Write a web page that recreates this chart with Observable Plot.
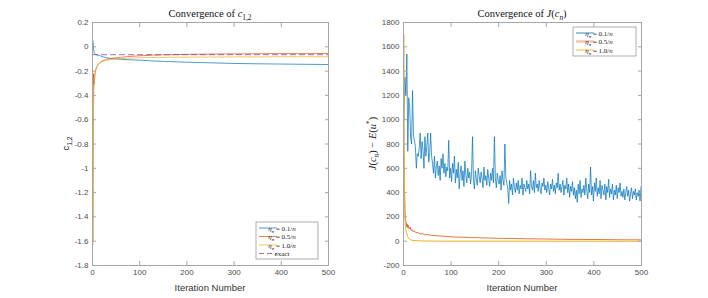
<!DOCTYPE html>
<html><head><meta charset="utf-8">
<script src="https://cdn.jsdelivr.net/npm/d3@7"></script>
<script src="https://cdn.jsdelivr.net/npm/@observablehq/plot@0.6"></script>
<style>
body{margin:0;background:#fff;}
#wrap{display:flex;width:708px;height:298px;overflow:hidden;}
#wrap svg{overflow:visible;}
</style></head><body><div id="wrap"></div>
<script>
// ---------- data ----------
const xTicks = [0, 100, 200, 300, 400, 500];
const leftYTicks = [0.2, 0, -0.2, -0.4, -0.6, -0.8, -1, -1.2, -1.4, -1.6, -1.8];
const rightYTicks = [1800, 1600, 1400, 1200, 1000, 800, 600, 400, 200, 0, -200];
const seriesNames = ["0.1", "0.5", "1.0"];

// left panel: convergence of c_{1,2}
const cIter   = [1, 2, 3, 4, 5, 6, 8, 10, 12, 15, 20, 25, 30, 40, 50, 60, 80, 100, 125, 150, 200, 250, 300, 350, 400, 450, 500];
const cBlue   = [0.05, 0.0, -0.04, -0.055, -0.06, -0.062, -0.065, -0.067, -0.069, -0.072, -0.08, -0.085, -0.09, -0.097, -0.1, -0.103, -0.107, -0.11, -0.116, -0.12, -0.127, -0.132, -0.137, -0.14, -0.142, -0.144, -0.146];
const cOrange = [-1.6, -0.22, -0.31, -0.27, -0.23, -0.2, -0.175, -0.158, -0.145, -0.132, -0.118, -0.11, -0.104, -0.096, -0.09, -0.086, -0.079, -0.074, -0.069, -0.066, -0.062, -0.06, -0.058, -0.057, -0.056, -0.056, -0.055];
const cYellow = [-1.63, -0.5, -0.37, -0.29, -0.245, -0.215, -0.18, -0.16, -0.148, -0.135, -0.122, -0.115, -0.11, -0.104, -0.1, -0.097, -0.093, -0.09, -0.088, -0.087, -0.085, -0.084, -0.083, -0.083, -0.082, -0.082, -0.082];
const cExact  = -0.065;

// right panel: convergence of J(c_n), eta_n = 0.1/n sampled at n = 1,3,5,...,499
const jBlue = [
  1000, 1350, 1200, 1540, 740, 1180, 1100, 850, 800, 1240,
  870, 830, 780, 600, 720, 700, 760, 890, 680, 820,
  750, 600, 860, 700, 780, 890, 650, 730, 890, 700,
  640, 560, 700, 520, 610, 660, 540, 620, 500, 680,
  600, 720, 560, 640, 530, 610, 580, 830, 520, 600,
  490, 640, 560, 700, 480, 590, 520, 650, 430, 560,
  620, 500, 580, 450, 660, 540, 480, 600, 520, 570,
  470, 560, 860, 500, 430, 580, 510, 460, 600, 540,
  480, 570, 520, 440, 610, 500, 540, 460, 590, 520,
  450, 560, 500, 600, 480, 860, 520, 440, 560, 500,
  470, 540, 420, 580, 500, 460, 800, 530, 480, 440,
  310, 500, 420, 470, 380, 520, 440, 400, 480, 420,
  500, 390, 460, 430, 520, 380, 470, 440, 410, 500,
  430, 470, 390, 580, 450, 420, 500, 400, 560, 440,
  470, 410, 500, 430, 390, 480, 450, 520, 420, 460,
  400, 490, 440, 380, 470, 430, 510, 410, 460, 390,
  480, 440, 560, 420, 470, 400, 450, 500, 380, 460,
  430, 520, 400, 470, 360, 450, 410, 490, 380, 440,
  350, 420, 320, 470, 390, 500, 360, 430, 400, 460,
  380, 520, 420, 350, 470, 400, 610, 380, 450, 330,
  480, 410, 520, 370, 440, 390, 500, 350, 460, 420,
  380, 470, 340, 450, 400, 510, 360, 430, 390, 470,
  340, 420, 380, 460, 350, 440, 400, 480, 370, 410,
  360, 430, 340, 400, 450, 370, 420, 330, 390, 440,
  350, 410, 380, 430, 340, 400, 370, 420, 330, 450
];
const jOrangeIter = [1, 2, 3, 4, 5, 6, 7, 8, 9, 10, 12, 14, 16, 18, 20, 23, 26, 30, 35, 40, 45, 50, 60, 70, 80, 90, 100, 120, 140, 160, 180, 200, 230, 260, 300, 350, 400, 450, 500];
const jOrange     = [700, 420, 260, 190, 160, 150, 120, 140, 110, 130, 100, 115, 90, 95, 80, 85, 70, 72, 60, 62, 52, 55, 48, 45, 42, 40, 36, 33, 30, 28, 26, 24, 22, 20, 18, 15, 14, 12, 11];
const jYellowIter = [1, 2, 3, 4, 5, 6, 8, 10, 12, 15, 20, 30, 50, 100, 200, 300, 400, 500];
const jYellow     = [1700, 500, 200, 130, 95, 75, 50, 30, 20, 12, 6, 3, 1, 0.5, 0.3, 0.2, 0.1, 0.1];

// ---------- style ----------
const COL = {blue: "#0072BD", orange: "#D95319", yellow: "#EDB120", purple: "#7E2F8E"};
const AXIS = "#a6a6a6", TXT = "#4d4d4d";
const W = 354, H = 298, MT = 22, MB = 33;
const SANS = "'Liberation Sans', Arial, Helvetica, sans-serif";
const SERIF = "'Liberation Serif', 'Times New Roman', serif";
const fmt = d => String(d);

function axes(yTicks) {
  return [
    Plot.frame({stroke: AXIS}),
    Plot.axisX({anchor: "bottom", ticks: xTicks, tickSize: -4, tickPadding: 8, stroke: AXIS, fill: TXT, tickFormat: fmt, label: null}),
    Plot.axisX({anchor: "top", ticks: xTicks, tickSize: -4, stroke: AXIS, tickFormat: () => "", label: null}),
    Plot.axisY({anchor: "left", ticks: yTicks, tickSize: -4, tickPadding: 8, stroke: AXIS, fill: TXT, tickFormat: fmt, label: null}),
    Plot.axisY({anchor: "right", ticks: yTicks, tickSize: -4, stroke: AXIS, tickFormat: () => "", label: null})
  ];
}

function rich(sel, parts, baseSize) {
  let shift = 0;
  parts.forEach(p => {
    const ts = sel.append("tspan").text(p.t);
    let target = 0, size = baseSize;
    if (p.sub) { target = baseSize * 0.3; size = baseSize * 0.7; }
    if (p.sup) { target = -baseSize * 0.4; size = baseSize * 0.7; }
    ts.attr("dy", target - shift).attr("font-size", size);
    if (p.i) ts.attr("font-style", "italic");
    shift = target;
  });
}

function legend(svg, x0, y0, w, h, rows, rowH) {
  const g = svg.append("g");
  g.append("rect").attr("x", x0).attr("y", y0).attr("width", w).attr("height", h)
    .attr("fill", "white").attr("stroke", "#9a9a9a").attr("stroke-width", 0.8);
  rows.forEach((r, k) => {
    const y = y0 + 6 + k * rowH;
    g.append("line").attr("x1", x0 + 3).attr("x2", x0 + 21).attr("y1", y).attr("y2", y)
      .attr("stroke", r.color).attr("stroke-width", r.width || 1)
      .attr("stroke-opacity", r.opacity || 1).attr("stroke-dasharray", r.dash || null);
    const t = g.append("text").attr("x", x0 + 26).attr("y", y + 2.5)
      .attr("font-family", SERIF).attr("font-size", 7).attr("fill", "#222");
    rich(t, r.parts, 7);
  });
}

function etaParts(v) {
  return [{t: "η", i: true}, {t: "n", sub: true, i: true}, {t: " = " + v + "/"}, {t: "n", i: true}];
}

// ---------- left panel ----------
const L = {ml: 92, mr: 26};
const left = Plot.plot({
  width: W, height: H, marginLeft: L.ml, marginRight: L.mr, marginTop: MT, marginBottom: MB,
  style: {fontFamily: SANS, fontSize: "8px", background: "white", overflow: "visible"},
  x: {domain: [0, 500]},
  y: {domain: [-1.8, 0.2]},
  marks: [
    Plot.line(cBlue, {x: (d, i) => cIter[i], y: d => d, stroke: COL.blue, strokeWidth: 1, strokeOpacity: 0.7}),
    Plot.line(cOrange, {x: (d, i) => cIter[i], y: d => d, stroke: COL.orange, strokeWidth: 1, strokeOpacity: 0.7}),
    Plot.line(cYellow, {x: (d, i) => cIter[i], y: d => d, stroke: COL.yellow, strokeWidth: 1, strokeOpacity: 0.7}),
    Plot.ruleY([cExact], {y: d => d, stroke: COL.purple, strokeOpacity: 0.7, strokeWidth: 1, strokeDasharray: "6,3"}),
    ...axes(leftYTicks)
  ]
});

// ---------- right panel ----------
const R = {ml: 49, mr: 67};
const right = Plot.plot({
  width: W, height: H, marginLeft: R.ml, marginRight: R.mr, marginTop: MT, marginBottom: MB,
  style: {fontFamily: SANS, fontSize: "8px", background: "white", overflow: "visible"},
  x: {domain: [0, 500]},
  y: {domain: [-200, 1800]},
  marks: [
    Plot.line(jBlue, {x: (d, i) => 2 * i + 1, y: d => d, stroke: COL.blue, strokeWidth: 0.8, strokeOpacity: 0.9}),
    Plot.line(jOrange, {x: (d, i) => jOrangeIter[i], y: d => d, stroke: COL.orange, strokeWidth: 0.8}),
    Plot.line(jYellow, {x: (d, i) => jYellowIter[i], y: d => d, stroke: COL.yellow, strokeWidth: 1}),
    ...axes(rightYTicks)
  ]
});

const wrap = document.getElementById("wrap");
wrap.appendChild(left);
wrap.appendChild(right);

// ---------- text decorations ----------
function decorate(node, m, title, ylabel, ylabelFont, ylabelSize, ylabelX) {
  const svg = d3.select(node);
  const cx = m.ml + (W - m.ml - m.mr) / 2;
  const cy = MT + (H - MT - MB) / 2;
  const t = svg.append("text").attr("x", cx).attr("y", 17).attr("text-anchor", "middle")
    .attr("font-family", SERIF).attr("font-size", 10.5).attr("fill", "#111");
  rich(t, title, 10.5);
  svg.append("text").attr("x", cx).attr("y", 291).attr("text-anchor", "middle")
    .attr("font-family", SANS).attr("font-size", 9.5).attr("fill", "#333").text("Iteration Number");
  const yl = svg.append("text").attr("transform", `translate(${ylabelX},${cy}) rotate(-90)`)
    .attr("text-anchor", "middle").attr("font-family", ylabelFont).attr("font-size", ylabelSize).attr("fill", "#222");
  rich(yl, ylabel, ylabelSize);
  return svg;
}

const sL = decorate(left, L, [{t: "Convergence of "}, {t: "c", i: true}, {t: "1,2", sub: true}],
  [{t: "c"}, {t: "1,2", sub: true}], SANS, 9.5, 69);
const sR = decorate(right, R, [{t: "Convergence of "}, {t: "J", i: true}, {t: "("}, {t: "c", i: true}, {t: "n", sub: true, i: true}, {t: ")"}],
  [{t: "J", i: true}, {t: "("}, {t: "c", i: true}, {t: "n", sub: true, i: true}, {t: ") − "}, {t: "E", i: true}, {t: "("}, {t: "u", i: true}, {t: "*", sup: true}, {t: ")"}],
  SERIF, 10.5, 22);

legend(sL, W - L.mr - 72, H - MB - 43, 62, 37, [
  {color: COL.blue, parts: etaParts(seriesNames[0]), opacity: 0.7},
  {color: COL.orange, parts: etaParts(seriesNames[1]), opacity: 0.7},
  {color: COL.yellow, parts: etaParts(seriesNames[2]), opacity: 0.7},
  {color: COL.purple, parts: [{t: "exact"}], dash: "5,3", opacity: 0.7}
], 8.5);
legend(sR, W - R.mr - 68, MT + 5, 63, 29, [
  {color: COL.blue, parts: etaParts(seriesNames[0]), opacity: 0.8},
  {color: COL.orange, parts: etaParts(seriesNames[1]), width: 2.5, opacity: 0.35},
  {color: COL.yellow, parts: etaParts(seriesNames[2]), opacity: 0.9}
], 8.5);
</script></body></html>
